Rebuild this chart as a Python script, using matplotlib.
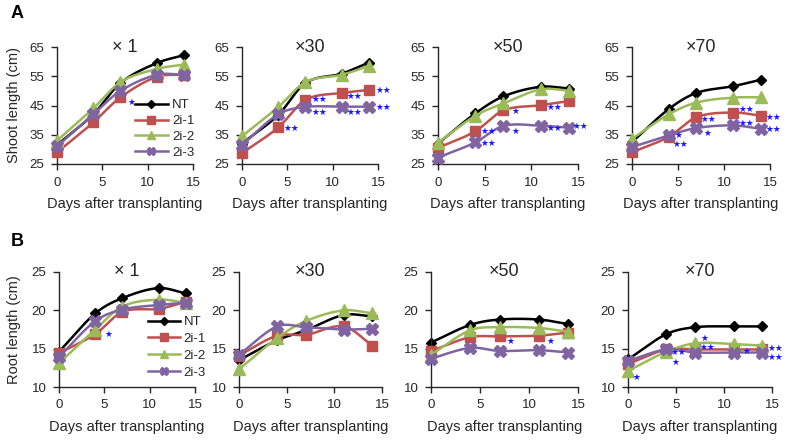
import numpy as np
import matplotlib.pyplot as plt
from matplotlib.lines import Line2D

plt.rcParams['font.family'] = ['Liberation Sans', 'DejaVu Sans']

days = [0, 4, 7, 11, 14]
series = ['NT', '2i-1', '2i-2', '2i-3']
titles = ['× 1', '×30', '×50', '×70']

# shoot length (cm), one list per series, for x1, x30, x50, x70
shoot = {
    '× 1': [[31.5, 42, 52.7, 59.5, 62.2], [29, 39.2, 47.8, 54.8, 55.5],
            [33, 44, 53, 57.5, 59], [31, 42, 50, 55.5, 55.5]],
    '×30': [[32, 41.8, 52.7, 55.9, 59.7], [28.7, 37.5, 46.9, 49.3, 50.3],
            [34.5, 44.5, 53, 55.5, 58.5], [31.5, 42, 44.5, 44.6, 44.6]],
    '×50': [[32, 42.3, 48.1, 51.4, 50.8], [30.5, 36.2, 43.3, 45.1, 46.5],
            [32.3, 41.5, 45.7, 50.5, 50.1], [27.2, 32.4, 38, 38.1, 37.4]],
    '×70': [[32.5, 43.8, 49.3, 51.6, 53.8], [29, 34.3, 41, 42.6, 41.5],
            [33.6, 42, 46, 47.7, 47.8], [30.8, 34.8, 37.3, 38.2, 37]],
}
# root length (cm)
root = {
    '× 1': [[14.6, 19.6, 21.6, 22.9, 22.2], [14.4, 16.9, 19.8, 20.2, 21.1],
            [13.1, 17.5, 20.5, 21.4, 21], [13.9, 18.6, 20.1, 20.7, 21]],
    '×30': [[13.5, 16.1, 17.4, 19.4, 19.2], [14.1, 16.7, 16.8, 17.9, 15.4],
            [12.3, 16.4, 18.6, 20, 19.6], [14.2, 17.9, 17.8, 17.5, 17.6]],
    '×50': [[15.8, 18.1, 18.8, 18.8, 18.2], [14.7, 16.5, 16.6, 16.7, 17.1],
            [14.2, 17.4, 17.8, 17.7, 17.2], [13.7, 15.1, 14.7, 14.8, 14.5]],
    '×70': [[13.6, 16.9, 17.8, 17.9, 17.9], [13, 14.9, 14.9, 14.9, 14.9],
            [12.1, 14.6, 15.7, 15.6, 15.4], [13.4, 14.9, 14.5, 14.5, 14.5]],
}
# significance marks: (x, y, text)
shoot_stars = {
    '× 1': [(8.2, 46, '*')],
    '×30': [(5.4, 37, '**'), (8.5, 47, '**'), (8.5, 42.7, '**'), (12.4, 48, '**'),
            (12.4, 42.5, '**'), (15.6, 50, '**'), (15.6, 44.3, '**')],
    '×50': [(8.3, 43, '*'), (8.3, 36, '*'), (5.4, 36, '**'), (5.4, 32, '**'),
            (12.5, 44.2, '**'), (12.5, 37, '**'), (15.3, 37.7, '**')],
    '×70': [(5.0, 34.8, '*'), (5.3, 31.8, '**'), (8.3, 40.2, '**'), (8.2, 35.5, '*'),
            (12.4, 43.8, '**'), (12.4, 39, '**'), (15.4, 41, '**'), (15.4, 36.8, '**')],
}
root_stars = {
    '× 1': [(5.5, 16.9, '*')],
    '×30': [],
    '×50': [(8.1, 15.9, '*'), (12.2, 16, '*')],
    '×70': [(0.9, 11.2, '*'), (5.2, 14.5, '**'), (4.9, 13.2, '*'), (8.0, 16.3, '*'),
            (8.3, 15.2, '**'), (12.3, 14.6, '*'), (15.3, 15.0, '**'), (15.3, 13.8, '**')],
}

colors = ['black', '#C0504D', '#9BBB59', '#8064A2']
markers = ['D', 's', '^', 'X']
msizes = [5.5, 7.5, 8, 8.5]


def smooth(x, y, n=40):
    # cubic hermite through the points, for a smoothed line like the original
    x = np.asarray(x, float)
    y = np.asarray(y, float)
    m = np.zeros_like(y)
    m[1:-1] = (y[2:] - y[:-2]) / (x[2:] - x[:-2])
    m[0] = (y[1] - y[0]) / (x[1] - x[0])
    m[-1] = (y[-1] - y[-2]) / (x[-1] - x[-2])
    xs, ys = [], []
    for i in range(len(x) - 1):
        h = x[i + 1] - x[i]
        t = np.linspace(0, 1, n)
        h00 = 2 * t**3 - 3 * t**2 + 1
        h10 = t**3 - 2 * t**2 + t
        h01 = -2 * t**3 + 3 * t**2
        h11 = t**3 - t**2
        xs.append(x[i] + t * h)
        ys.append(h00 * y[i] + h10 * h * m[i] + h01 * y[i + 1] + h11 * h * m[i + 1])
    return np.concatenate(xs), np.concatenate(ys)


W, H = 787, 441
fig = plt.figure(figsize=(W / 100, H / 100), dpi=100)
txt = '#262626'

rows = [
    dict(data=shoot, stars=shoot_stars, ylim=(25, 65), yt=[25, 35, 45, 55, 65],
         top=47, bot=164, lefts=[57, 242, 438, 632], widths=[136, 136, 140, 138],
         ylabel='Shoot length (cm)', label='A', laby=13, ylaby=105),
    dict(data=root, stars=root_stars, ylim=(10, 25), yt=[10, 15, 20, 25],
         top=272, bot=387, lefts=[59, 239, 431, 628], widths=[136, 143, 147, 144],
         ylabel='Root length (cm)', label='B', laby=242, ylaby=330),
]

for r in rows:
    for j, t in enumerate(titles):
        ax = fig.add_axes([r['lefts'][j] / W, 1 - r['bot'] / H,
                           r['widths'][j] / W, (r['bot'] - r['top']) / H])
        for k in range(4):
            vals = r['data'][t][k]
            sx, sy = smooth(days, vals)
            ax.plot(sx, sy, color=colors[k], lw=1.8, clip_on=False, zorder=2 + k)
            ax.plot(days, vals, linestyle='none', marker=markers[k], ms=msizes[k],
                    color=colors[k], clip_on=False, zorder=2 + k)
        for (sx_, sy_, s) in r['stars'][t]:
            ax.text(sx_, sy_, s.replace('*', '★'), color='#1a1aff', fontsize=6.3,
                    ha='center', va='center', family=['DejaVu Sans'], zorder=10,
                    clip_on=False)
        ax.set_xlim(0, 15)
        ax.set_ylim(*r['ylim'])
        ax.set_xticks([0, 5, 10, 15])
        ax.set_yticks(r['yt'])
        ax.spines['top'].set_visible(False)
        ax.spines['right'].set_visible(False)
        for sp in ['left', 'bottom']:
            ax.spines[sp].set_linewidth(1.0)
            ax.spines[sp].set_color(txt)
        ax.tick_params(direction='out', length=4, width=1.0, labelsize=9.5,
                       colors=txt, pad=5)
        ax.patch.set_visible(False)
        ax.set_xlabel('Days after transplanting', fontsize=10.5, labelpad=6,
                      color=txt)
        ax.text(0.5, 1.0, t, transform=ax.transAxes, ha='center', va='center',
                fontsize=13, color=txt)

    fig.text(14 / W, 1 - r['ylaby'] / H, r['ylabel'], rotation=90, ha='center',
             va='center', fontsize=10.5, color=txt)
    fig.text(17 / W, 1 - r['laby'] / H, r['label'], ha='center', va='center',
             fontsize=13, fontweight='bold')

handles = [Line2D([], [], color=colors[k], marker=markers[k], ms=msizes[k] * 0.75,
                  lw=1.8) for k in range(4)]
for anchor, hl, ls in [((135 / W, 1 - 99 / H), 2.5, 0.28),
                       ((148 / W, 1 - 316 / H), 2.4, 0.35)]:
    leg = fig.legend(handles, series, loc='upper left', bbox_to_anchor=anchor,
                     frameon=False, fontsize=9.5, handlelength=hl,
                     handletextpad=0.3, labelspacing=ls, borderpad=0,
                     borderaxespad=0)
    for tx in leg.get_texts():
        tx.set_color(txt)

fig.savefig('out.png', dpi=100)
